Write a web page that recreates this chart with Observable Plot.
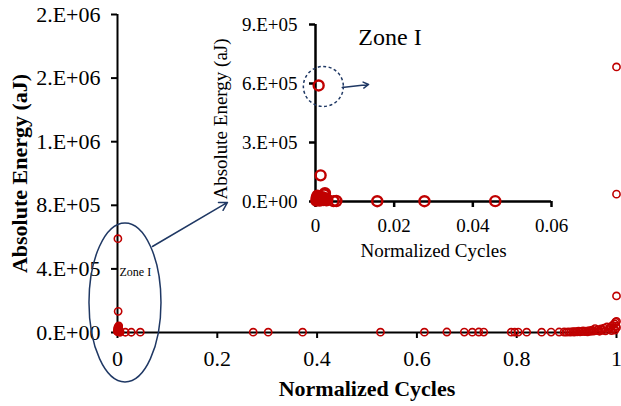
<!DOCTYPE html>
<html><head><meta charset="utf-8">
<script src="https://cdn.jsdelivr.net/npm/d3@7"></script>
<script src="https://cdn.jsdelivr.net/npm/@observablehq/plot@0.6"></script>
<style>
body{margin:0;background:#fff}
#wrap{position:relative;width:621px;height:406px}
#main{position:absolute;left:0;top:0}
#inset{position:absolute;left:200px;top:0}
</style>
</head><body>
<div id="wrap"><div id="main"></div><div id="inset"></div></div>
<script>
// Normalized cycles (x) and absolute energy in aJ (y)
const cycles = [
  0.0002, 0.0003, 0.0004, 0.0005, 0.0006, 0.0008, 0.0009, 0.0010, 0.0011, 0.0013,
  0.0014, 0.0016, 0.0018, 0.0020, 0.0022, 0.0024, 0.0026, 0.0028, 0.0030, 0.0046,
  0.0053, 0.0157, 0.0277, 0.0457,
  0.272, 0.302, 0.371, 0.527, 0.615, 0.660, 0.695, 0.711, 0.724, 0.734,
  0.789, 0.796, 0.803, 0.820, 0.850, 0.869, 0.885,
  0.895, 0.900, 0.904, 0.908, 0.912, 0.915, 0.918, 0.921, 0.924, 0.927,
  0.930, 0.933, 0.936, 0.939, 0.942, 0.945, 0.948, 0.951, 0.954, 0.957,
  0.960, 0.963, 0.966, 0.969, 0.972, 0.975, 0.978, 0.981, 0.984, 0.987,
  0.990, 0.992, 0.994, 0.996, 0.997, 0.998, 0.999, 1, 1, 1, 1, 1
];
const energy = [
  5000, 20000, 8000, 30000, 12000, 590000, 15000, 25000, 5000, 133000,
  18000, 10000, 22000, 8000, 35000, 42000, 15000, 6000, 10000, 2000,
  2500, 1500, 1500, 1800,
  2000, 2000, 2000, 2000, 2000, 3000, 2500, 2000, 3000, 2500,
  2000, 2000, 2500, 2000, 2000, 2500, 3000,
  3000, 2000, 4000, 2500, 5000, 3000, 6000, 3500, 8000, 4000,
  6000, 10000, 5000, 9000, 4000, 12000, 7000, 15000, 9000, 25000,
  12000, 18000, 8000, 22000, 14000, 28000, 10000, 35000, 18000, 30000,
  12000, 45000, 25000, 55000, 15000, 65000, 40000, 70000, 30000, 230000, 870000, 1670000
];

const xTicks = [0, 0.2, 0.4, 0.6, 0.8, 1];
const xTickLabels = ["0", "0.2", "0.4", "0.6", "0.8", "1"];
const yTicks = [0, 400000, 800000, 1200000, 1600000, 2000000];
const yTickLabels = ["0.E+00", "4.E+05", "8.E+05", "1.E+06", "2.E+06", "2.E+06"];

const insetXTicks = [0, 0.02, 0.04, 0.06];
const insetXTickLabels = ["0", "0.02", "0.04", "0.06"];
const insetYTicks = [0, 300000, 600000, 900000];
const insetYTickLabels = ["0.E+00", "3.E+05", "6.E+05", "9.E+05"];

const xTitle = "Normalized Cycles";
const yTitle = "Absolute Energy (aJ)";
const zoneLabel = "Zone I";

// annotation anchors (data coordinates)
const mainZoneText = {x: 0.004, y: 377000};
const mainZoneEllipse = {x: 0.016, y: 186000};
const mainArrow = {x1: 0.070, y1: 541000, x2: 0.2204, y2: 818000};
const insetZoneText = {x: 0.0109, y: 836000};
const insetCircle = {x: 0.002, y: 585000};
const insetArrow = {x1: 0.0068, y1: 580000, x2: 0.0135, y2: 595000};

const red = "#C00000";
const navy = "#1F3864";
const font = "'Liberation Serif', 'Times New Roman', serif";

const points = cycles.map((c, i) => ({c, e: energy[i]}));
const insetPoints = points.filter(d => d.c <= 0.06);

const main = Plot.plot({
  width: 621, height: 406,
  marginLeft: 117, marginRight: 5, marginTop: 14, marginBottom: 74,
  style: {fontFamily: font, background: "transparent", color: "black", overflow: "visible"},
  x: {domain: [0, 1]},
  y: {domain: [0, 2000000]},
  marks: [
    Plot.axisY({ticks: yTicks, tickFormat: d => yTickLabels[yTicks.indexOf(d)], tickSize: 6, tickPadding: 11, fontSize: 22, label: null, strokeWidth: 2}),
    Plot.axisX({ticks: xTicks, tickFormat: d => xTickLabels[xTicks.indexOf(d)], tickSize: 6, tickPadding: 12, fontSize: 22, label: null, strokeWidth: 2}),
    Plot.ruleY([0], {stroke: "black", strokeWidth: 2}),
    Plot.ruleX([0], {stroke: "black", strokeWidth: 2}),
    Plot.text([xTitle], {frameAnchor: "bottom", lineAnchor: "middle", dy: 56, fontSize: 22, fontWeight: "bold"}),
    Plot.text([yTitle], {frameAnchor: "left", textAnchor: "middle", dx: -98, rotate: -90, fontSize: 22, fontWeight: "bold"}),
    Plot.arrow([mainArrow], {x1: "x1", y1: "y1", x2: "x2", y2: "y2", stroke: navy, strokeWidth: 1.5, headLength: 9}),
    Plot.text([mainZoneText], {x: "x", y: "y", text: () => zoneLabel, textAnchor: "start", fontSize: 12}),
    Plot.dot(points, {x: "c", y: "e", r: 3.6, stroke: red, strokeWidth: 1.6, fill: "none"})
  ]
});
{
  const sx = main.scale("x"), sy = main.scale("y");
  d3.select(main).append("ellipse")
    .attr("cx", sx.apply(mainZoneEllipse.x)).attr("cy", sy.apply(mainZoneEllipse.y))
    .attr("rx", 36).attr("ry", 79.5)
    .attr("fill", "none").attr("stroke", navy).attr("stroke-width", 1.5);
}
document.getElementById("main").append(main);

const inset = Plot.plot({
  width: 390, height: 270,
  marginLeft: 115, marginRight: 39, marginTop: 24, marginBottom: 69,
  style: {fontFamily: font, background: "transparent", color: "black", overflow: "visible"},
  x: {domain: [0, 0.06]},
  y: {domain: [0, 900000]},
  marks: [
    Plot.axisY({ticks: insetYTicks, tickFormat: d => insetYTickLabels[insetYTicks.indexOf(d)], tickSize: 6, tickPadding: 12, fontSize: 19, label: null, strokeWidth: 2.5}),
    Plot.axisX({ticks: insetXTicks, tickFormat: d => insetXTickLabels[insetXTicks.indexOf(d)], tickSize: 6, tickPadding: 11, fontSize: 19, label: null, strokeWidth: 2.5}),
    Plot.ruleY([0], {stroke: "black", strokeWidth: 2.5}),
    Plot.ruleX([0], {stroke: "black", strokeWidth: 2.5}),
    Plot.text([xTitle], {frameAnchor: "bottom", lineAnchor: "middle", dy: 49, fontSize: 19}),
    Plot.text([yTitle], {frameAnchor: "left", textAnchor: "middle", dx: -95, dy: 6, rotate: -90, fontSize: 19}),
    Plot.text([insetZoneText], {x: "x", y: "y", text: () => zoneLabel, textAnchor: "start", fontSize: 24}),
    Plot.dot([insetCircle], {x: "x", y: "y", r: 20, stroke: navy, strokeWidth: 1.5, strokeDasharray: "3,2.5", fill: "none"}),
    Plot.arrow([insetArrow], {x1: "x1", y1: "y1", x2: "x2", y2: "y2", stroke: navy, strokeWidth: 1.5, headLength: 6}),
    Plot.dot(insetPoints, {x: "c", y: "e", r: 5, stroke: red, strokeWidth: 2.4, fill: "none"})
  ]
});
document.getElementById("inset").append(inset);
</script>
</body></html>
